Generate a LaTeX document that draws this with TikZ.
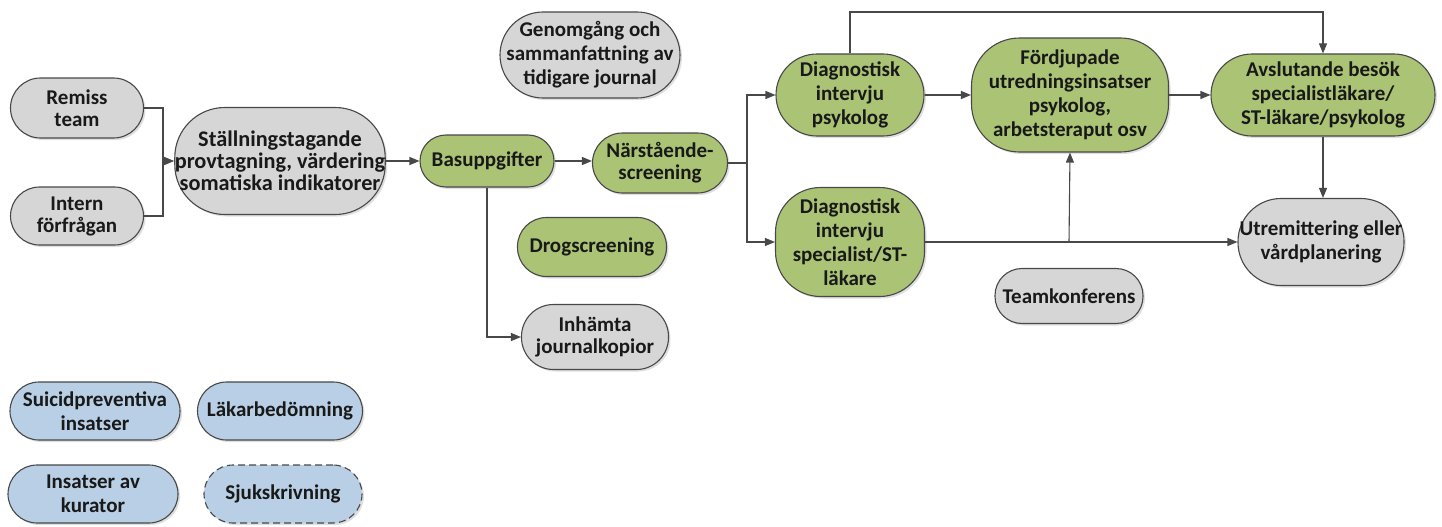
\documentclass[tikz,border=0pt]{standalone}
\usepackage{fontspec}
\setmainfont{Carlito}
\usetikzlibrary{arrows.meta,shadows}
\definecolor{gfill}{RGB}{170,195,117}
\definecolor{grfill}{RGB}{214,214,214}
\definecolor{bfill}{RGB}{184,207,229}
\definecolor{edge}{RGB}{72,72,72}
\tikzset{
  box/.style={draw=edge, line width=1.1pt, align=center, inner sep=0pt,
    font=\fontsize{21}{24}\selectfont\bfseries, text=black!90,
    drop shadow={shadow xshift=2pt, shadow yshift=-2pt, opacity=0.25}},
  tight/.style={font=\fontsize{21}{22}\selectfont\bfseries},
  big/.style={font=\fontsize{22.3}{22}\selectfont\bfseries},
  green/.style={box, fill=gfill},
  grey/.style={box, fill=grfill},
  blue/.style={box, fill=bfill},
  sz/.style n args={3}{minimum width=#1pt, minimum height=#2pt, rounded corners=#3pt},
  conn/.style={draw=edge, line width=1.1pt},
  arr/.style={conn, -{Triangle[length=10pt,width=8pt]}},
}
\begin{document}
\begin{tikzpicture}[x=1pt,y=-1pt]
\useasboundingbox (0,0) rectangle (1442,527);
% nodes
\node[grey, tight, sz={133}{60}{30}] (remiss) at (77,108) {Remiss\\team};
\node[grey, tight, sz={133}{58}{29}] (intern) at (77,216) {Intern\\förfrågan};
\node[grey, big, sz={208}{107}{50}] (stall) at (280,161) {Ställningstagande\\provtagning, värdering\\somatiska indikatorer};
\node[green, sz={134}{52}{26}] (bas) at (487,161) {Basuppgifter};
\node[green, tight, sz={135}{60}{30}] (narst) at (660,163) {Närstående-\\screening};
\node[grey, sz={180}{86}{43}] (genom) at (590,55) {Genomgång och\\sammanfattning av\\tidigare journal};
\node[green, sz={149}{59}{29}] (drog) at (592,247) {Drogscreening};
\node[grey, tight, sz={147}{65}{32}] (inhamta) at (595,337) {Inhämta\\journalkopior};
\node[green, sz={148}{82}{41}] (dpsy) at (850,95) {Diagnostisk\\intervju\\psykolog};
\node[green, sz={149}{109}{45}] (dspec) at (850,242) {Diagnostisk\\intervju\\specialist/ST-\\läkare};
\node[green, sz={197}{114}{48}] (ford) at (1070,95) {Fördjupade\\utredningsinsatser\\psykolog,\\arbetsteraput osv};
\node[green, sz={224}{82}{41}] (avsl) at (1323,95) {Avslutande besök\\specialistläkare/\\ST-läkare/psykolog};
\node[grey, sz={166}{87}{43}] (utrem) at (1321,242) {Utremittering eller\\vårdplanering};
\node[grey, sz={148}{55}{27}] (team) at (1069,296) {Teamkonferens};
\node[blue, sz={170}{58}{29}] (suic) at (95,411) {Suicidpreventiva\\insatser};
\node[blue, sz={165}{58}{29}] (lakar) at (280,411) {Läkarbedömning};
\node[blue, sz={170}{58}{29}] (kurator) at (93,494) {Insatser av\\kurator};
\node[blue, sz={158}{58}{29}, dashed, dash pattern=on 7pt off 4pt] (sjuk) at (283,494) {Sjukskrivning};
% junctions
\coordinate (j1) at (163,161);
\coordinate (j2) at (747,163);
\coordinate (j3) at (1069,242);
\coordinate (top) at (850,12);
% connectors
\draw[conn] (remiss.east) -| (j1);
\draw[conn] (intern.east) -| (j1);
\draw[arr] (j1) -- (stall.west);
\draw[arr] (stall.east) -- (bas.west);
\draw[arr] (bas.east) -- (narst.west |- bas.east);
\draw[conn] (narst.east) -- (j2);
\draw[arr] (j2) |- (dpsy.west);
\draw[arr] (j2) |- (dspec.west);
\draw[arr] (bas.south) |- (inhamta.west);
\draw[arr] (dpsy.east) -- (ford.west |- dpsy.east);
\draw[arr] (ford.east) -- (avsl.west |- ford.east);
\draw[arr] (dpsy.north) -- (top) -| (avsl.north);
\draw[arr] (avsl.south) -- (avsl.south |- utrem.north);
\draw[arr] (dspec.east) -- (utrem.west |- dspec.east);
\draw[arr] (j3) -- (ford.south);
\end{tikzpicture}
\end{document}
